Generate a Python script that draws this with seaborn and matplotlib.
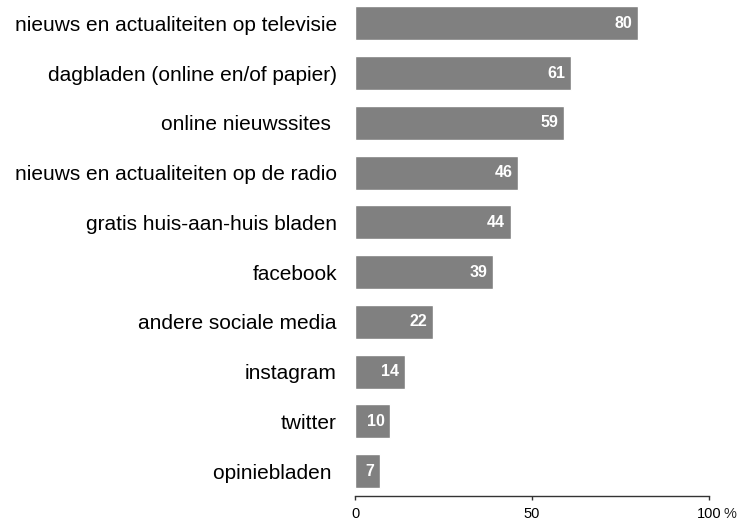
import matplotlib
matplotlib.use("Agg")
import matplotlib.pyplot as plt
import seaborn as sns
import pandas as pd

# data
categories = [
    "nieuws en actualiteiten op televisie",
    "dagbladen (online en/of papier)",
    "online nieuwssites ",
    "nieuws en actualiteiten op de radio",
    "gratis huis-aan-huis bladen",
    "facebook",
    "andere sociale media",
    "instagram",
    "twitter",
    "opiniebladen ",
]
values = [80, 61, 59, 46, 44, 39, 22, 14, 10, 7]
xticks = [0, 50, 100]

df = pd.DataFrame({"bron": categories, "pct": values})

sns.set_style("white")
plt.rcParams["font.family"] = ["Liberation Sans", "DejaVu Sans"]

fig = plt.figure(figsize=(7.38, 5.2), dpi=100)
ax = fig.add_axes([355 / 738, 24 / 520, 354 / 738, 496 / 520])

sns.barplot(data=df, x="pct", y="bron", color="#808080", saturation=1,
            width=0.68, orient="h", ax=ax)

for i, v in enumerate(values):
    ax.annotate(str(v), xy=(v, i), xytext=(-4, 0), textcoords="offset points",
                ha="right", va="center", color="white", fontsize=11.5,
                fontweight="bold")

tick_len = 3
tick_pad = 5
ax.set_xlim(0, 100)
ax.set_ylim(9.5, -0.47)
ax.set_xticks(xticks)
ax.set_xticklabels([str(t) for t in xticks], fontsize=10.5)
ax.annotate("%", xy=(100, 0), xycoords=("data", "axes fraction"),
            xytext=(10.5, -(tick_len + tick_pad)), textcoords="offset points",
            ha="left", va="top", fontsize=10.5)
ax.tick_params(axis="x", direction="out", length=tick_len, width=1,
               color="#333333", pad=tick_pad, bottom=True)
ax.tick_params(axis="y", length=0, pad=13, labelsize=15)
for lbl in ax.get_yticklabels():
    lbl.set_color("black")
for lbl in ax.get_xticklabels():
    lbl.set_color("black")
ax.set_xlabel("")
ax.set_ylabel("")
for s in ["top", "right", "left"]:
    ax.spines[s].set_visible(False)
ax.spines["bottom"].set_color("#333333")
ax.spines["bottom"].set_linewidth(1)

fig.savefig("out.png", dpi=100)
